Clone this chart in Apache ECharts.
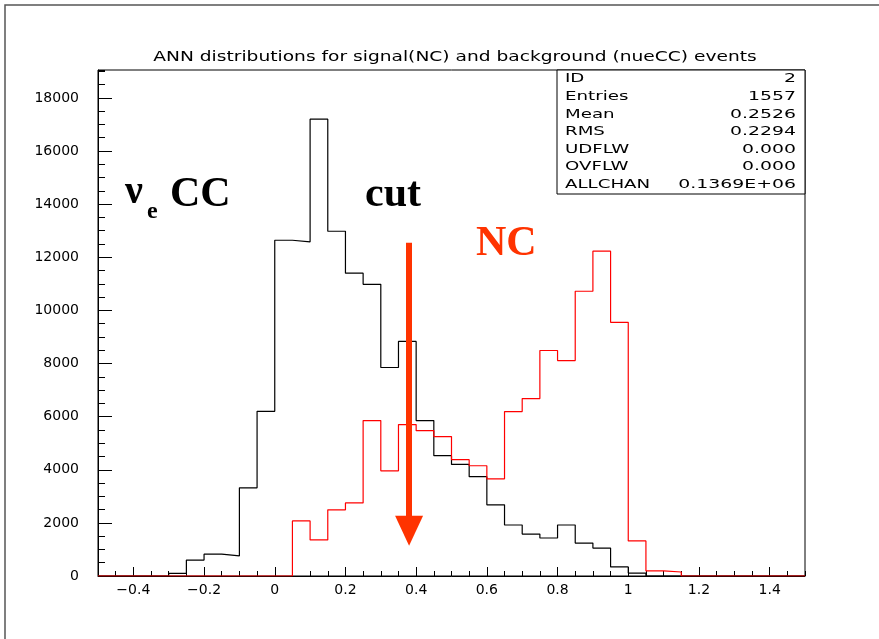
<!DOCTYPE html>
<html>
<head>
<meta charset="utf-8">
<script src="https://cdn.jsdelivr.net/npm/echarts@6/dist/echarts.min.js"></script>
<style>
  html, body { margin: 0; padding: 0; background: #fff; }
  #ann_chart { width: 879px; height: 639px; }
</style>
</head>
<body>
<div id="ann_chart"></div>
<script>
// lower edge of each 0.05 bin, plus the last upper edge
const binEdges = [-0.5, -0.45, -0.4, -0.35, -0.3, -0.25, -0.2, -0.15, -0.1, -0.05,
  0, 0.05, 0.1, 0.15, 0.2, 0.25, 0.3, 0.35, 0.4, 0.45,
  0.5, 0.55, 0.6, 0.65, 0.7, 0.75, 0.8, 0.85, 0.9, 0.95,
  1.0, 1.05, 1.1, 1.15, 1.2, 1.25, 1.3, 1.35, 1.4, 1.45, 1.5];
// background (nueCC)
const ccCounts = [0, 0, 0, 0, 100, 600, 820, 760, 3320, 6200,
  12640, 12580, 17200, 12980, 11400, 10980, 7850, 8830, 5850, 4530,
  4200, 3740, 2680, 1920, 1580, 1430, 1920, 1240, 1050, 340,
  110, 0, 0, 0, 0, 0, 0, 0, 0, 0];
// signal (NC)
const ncCounts = [0, 0, 0, 0, 0, 0, 0, 0, 0, 0,
  0, 2075, 1360, 2490, 2750, 5850, 3960, 5700, 5470, 5250,
  4380, 4150, 3660, 6190, 6680, 8490, 8110, 10720, 12230, 9550,
  1320, 190, 150, 0, 0, 0, 0, 0, 0, 0];
const xTickLabels = [-0.4, -0.2, 0, 0.2, 0.4, 0.6, 0.8, 1, 1.2, 1.4];
const yTickLabels = [0, 2000, 4000, 6000, 8000, 10000, 12000, 14000, 16000, 18000];
const cutValue = 0.38;
const statNames = ['ID', 'Entries', 'Mean', 'RMS', 'UDFLW', 'OVFLW', 'ALLCHAN'];
const statValues = ['2', '1557', '0.2526', '0.2294', '0.000', '0.000', '0.1369E+06'];

function histPoints(counts){
  let pts = counts.map((c, i) => [binEdges[i], c]);
  pts.push([binEdges[binEdges.length - 1], counts[counts.length - 1]]);
  return pts;
}

const labelFont = { fontFamily: 'DejaVu Sans', fontSize: 14, color: '#000' };

let statGraphics = [{
  type: 'rect',
  shape: { x: 557, y: 70, width: 248, height: 124 },
  style: { fill: '#fff', stroke: '#000', lineWidth: 1 }
}];
statNames.forEach((n, i) => {
  statGraphics.push({
    type: 'text', x: 565, y: 79 + i * 17.6, scaleX: 1.4,
    style: { text: n, font: '13px "DejaVu Sans"', fill: '#000', textVerticalAlign: 'middle' }
  });
  statGraphics.push({
    type: 'text', x: 796, y: 79 + i * 17.6, scaleX: 1.45,
    style: { text: statValues[i], font: '13px "DejaVu Sans"', fill: '#000',
      textAlign: 'right', textVerticalAlign: 'middle' }
  });
});

const options = {
  backgroundColor: '#fff',
  animation: false,
  grid: {
    left: 98, right: 74, top: 70, bottom: 63,
    show: true, borderColor: '#000', borderWidth: 1, backgroundColor: 'transparent'
  },
  xAxis: [
    {
      type: 'value', min: -0.5, max: 1.5, interval: 0.05,
      axisLine: { onZero: false, lineStyle: { color: '#000', width: 1 } },
      axisTick: { inside: true, length: 5, lineStyle: { color: '#000' } },
      axisLabel: Object.assign({
        margin: 7,
        customValues: xTickLabels,
        formatter: v => String(+v.toFixed(2)).replace('-', '\u2212')
      }, labelFont),
      splitLine: { show: false }
    },
    {
      type: 'value', min: -0.5, max: 1.5, position: 'bottom',
      axisLine: { show: false, onZero: false },
      axisTick: { inside: true, length: 9, customValues: xTickLabels, lineStyle: { color: '#000' } },
      axisLabel: { show: false },
      splitLine: { show: false }
    }
  ],
  yAxis: [
    {
      type: 'value', min: 0, max: 19050, interval: 500,
      axisLine: { show: true, onZero: false, lineStyle: { color: '#000', width: 1 } },
      axisTick: { show: true, inside: true, length: 7, lineStyle: { color: '#000' } },
      axisLabel: Object.assign({
        margin: 19,
        customValues: yTickLabels,
        formatter: v => String(v)
      }, labelFont),
      splitLine: { show: false }
    },
    {
      type: 'value', min: 0, max: 19050, position: 'left',
      axisLine: { show: false, onZero: false },
      axisTick: { show: true, inside: true, length: 14, customValues: yTickLabels, lineStyle: { color: '#000' } },
      axisLabel: { show: false },
      splitLine: { show: false }
    }
  ],
  series: [
    {
      name: 'nueCC', type: 'line', step: 'end', showSymbol: false,
      data: histPoints(ccCounts),
      lineStyle: { color: '#000', width: 1.2 }
    },
    {
      name: 'NC', type: 'line', step: 'end', showSymbol: false,
      data: histPoints(ncCounts),
      lineStyle: { color: '#ff0000', width: 1.2 },
      markLine: {
        silent: true,
        symbol: ['none', 'triangle'],
        symbolSize: [28, 30],
        label: { show: false },
        lineStyle: { color: '#ff3300', width: 6, type: 'solid' },
        data: [[{ coord: [cutValue, 12550] }, { coord: [cutValue, 1700] }]]
      }
    }
  ],
  graphic: [
    {
      type: 'polyline',
      shape: { points: [[5, 639], [5, 5], [879, 5]] },
      style: { stroke: '#555', lineWidth: 1.5, fill: null }
    },
    {
      type: 'text', x: 455, y: 57, scaleX: 1.33,
      style: { text: 'ANN distributions for signal(NC) and background (nueCC) events',
        font: '14px "DejaVu Sans"', fill: '#000', textAlign: 'center', textVerticalAlign: 'middle' }
    },
    { type: 'text', x: 125, y: 213,
      style: { text: '\u03bd', font: 'bold 40px "Liberation Serif"', fill: '#000', textVerticalAlign: 'bottom' } },
    { type: 'text', x: 147, y: 224,
      style: { text: 'e', font: 'bold 24px "Liberation Serif"', fill: '#000', textVerticalAlign: 'bottom' } },
    { type: 'text', x: 170, y: 216,
      style: { text: 'CC', font: 'bold 42px "Liberation Serif"', fill: '#000', textVerticalAlign: 'bottom' } },
    { type: 'text', x: 365, y: 216,
      style: { text: 'cut', font: 'bold 42px "Liberation Serif"', fill: '#000', textVerticalAlign: 'bottom' } },
    { type: 'text', x: 476, y: 265,
      style: { text: 'NC', font: 'bold 42px "Liberation Serif"', fill: '#ff3300', textVerticalAlign: 'bottom' } }
  ].concat(statGraphics)
};

let annChart = echarts.init(document.getElementById('ann_chart'));
annChart.setOption(options);
</script>
</body>
</html>
